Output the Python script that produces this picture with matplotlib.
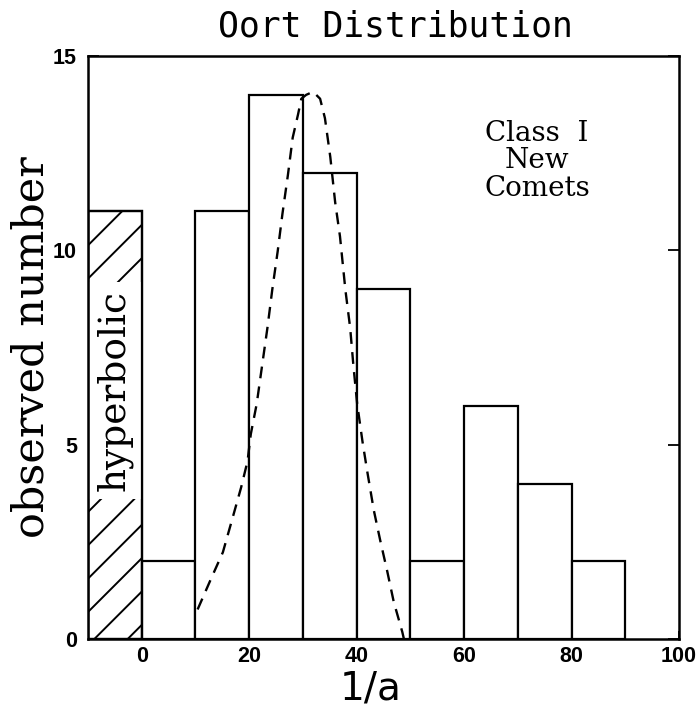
import matplotlib
matplotlib.use("Agg")
import matplotlib.pyplot as plt

# ---- data ----
bin_left = [-10, 0, 10, 20, 30, 40, 50, 60, 70, 80]
counts = [11, 2, 11, 14, 12, 9, 2, 6, 4, 2]
bin_width = 10

curve_x = [10.4, 12.9, 15.1, 16.9, 18.5, 19.7, 20.3, 21.4, 22.5, 23.4, 24.3, 25.3,
           26.2, 27.2, 28.1, 29.1, 29.7, 30.6, 31.9, 33.2, 34.1, 35.1, 36.0, 36.9,
           37.9, 38.8, 39.4, 40.1, 41.1, 42.0, 43.2, 44.4, 45.7, 46.9, 48.5, 48.8]
curve_y = [0.76, 1.55, 2.23, 3.11, 3.9, 4.58, 5.27, 6.05, 7.13, 8.01, 8.99, 9.97,
           10.95, 11.93, 12.9, 13.5, 13.9, 14.0, 14.08, 13.9, 13.4, 12.4, 11.24, 10.36,
           8.99, 8.0, 7.03, 6.05, 5.07, 4.29, 3.31, 2.53, 1.74, 0.96, 0.18, 0.0]

xticks = [0, 20, 40, 60, 80, 100]
yticks = [0, 5, 10, 15]

plt.rcParams['hatch.linewidth'] = 1.4

fig = plt.figure(figsize=(6.98, 7.08), dpi=100)
ax = fig.add_axes([88/698, 69/708, 591/698, 583/708])

hatches = ['/'] + [None] * (len(counts) - 1)
for xl, c, h in zip(bin_left, counts, hatches):
    ax.bar(xl, c, width=bin_width, align='edge', facecolor='white',
           edgecolor='black', linewidth=1.6, hatch=h, zorder=2)

ax.plot(curve_x, curve_y, color='black', linestyle=(0, (5, 3.5)), linewidth=1.7, zorder=3)

ax.text(-5, 6.4, "hyperbolic", rotation=90, ha='center', va='center',
        family='DejaVu Serif', fontsize=27, zorder=3,
        bbox=dict(facecolor='white', edgecolor='none', pad=6))
# redraw the outline of the hatched bin on top of the label's white box
ax.bar(bin_left[0], counts[0], width=bin_width, align='edge', fill=False,
       edgecolor='black', linewidth=1.6, zorder=4)

ax.text(73.6, 12.3, "Class  I\nNew\nComets", ha='center', va='center',
        multialignment='center', family='DejaVu Serif', fontsize=20, linespacing=1.02)

ax.set_xlim(-10, 100)
ax.set_ylim(0, 15)
ax.set_xticks(xticks)
ax.set_yticks(yticks)
ax.tick_params(axis='y', direction='in', length=8, width=1.3, left=True, right=True, pad=8)
ax.tick_params(axis='x', direction='in', length=6, width=1.3, bottom=True, top=False, pad=5)
for lab in ax.get_xticklabels() + ax.get_yticklabels():
    lab.set_fontfamily('Liberation Sans')
    lab.set_fontweight('bold')
    lab.set_fontsize(15.5)
for s in ax.spines.values():
    s.set_linewidth(1.8)
    s.set_zorder(5)

ax.set_title("Oort Distribution", family='DejaVu Sans Mono', fontsize=25, x=0.521, pad=14)
ax.set_xlabel("1/a", family='DejaVu Sans', fontsize=28)
ax.xaxis.set_label_coords(0.479, -0.053)
ax.set_ylabel("observed number", family='DejaVu Serif', fontsize=31)
ax.yaxis.set_label_coords(-0.06, 0.5)

fig.savefig("out.png", dpi=100)
